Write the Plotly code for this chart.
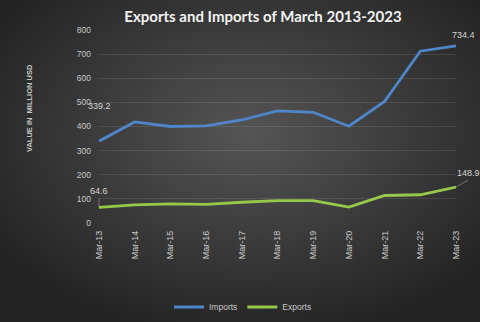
import plotly.graph_objects as go
import urllib.parse

# Data: March values, million USD
categories = ["Mar-13", "Mar-14", "Mar-15", "Mar-16", "Mar-17", "Mar-18",
              "Mar-19", "Mar-20", "Mar-21", "Mar-22", "Mar-23"]
imports = [339.2, 419, 400, 403, 427, 465, 459, 401, 504, 712, 734.4]
exports = [64.6, 75, 79, 77, 86, 93, 93, 66, 114, 117, 148.9]
y_ticks = [0, 100, 200, 300, 400, 500, 600, 700, 800]

W, H = 480, 322
M = dict(l=99, r=24, t=30, b=99, autoexpand=False)
pw = W - M["l"] - M["r"]
ph = H - M["t"] - M["b"]

# Radial gradient background as an inline SVG image
svg = (
    f'<svg xmlns="http://www.w3.org/2000/svg" width="{W}" height="{H}" '
    f'viewBox="0 0 {W} {H}" preserveAspectRatio="none">'
    '<defs><radialGradient id="g" cx="0.52" cy="0.42" r="0.62">'
    '<stop offset="0" stop-color="#555555"/>'
    '<stop offset="1" stop-color="#242424"/>'
    '</radialGradient></defs>'
    f'<rect width="{W}" height="{H}" fill="url(#g)"/></svg>'
)
bg_src = "data:image/svg+xml;charset=utf-8," + urllib.parse.quote(svg)

blue = "#4f86c9"
green = "#96c84a"
tick_color = "#c8c8c8"

fig = go.Figure()
fig.add_trace(go.Scatter(x=categories, y=imports, mode="lines", name="Imports",
                         line=dict(color=blue, width=2.8)))
fig.add_trace(go.Scatter(x=categories, y=exports, mode="lines", name="Exports",
                         line=dict(color=green, width=2.8)))

label_font = dict(family="Liberation Sans", size=9, color="#d4d4d4")
fig.add_annotation(x=categories[0], y=imports[0], text=f"{imports[0]:.1f}",
                   showarrow=False, xshift=0, yshift=35, font=label_font)
fig.add_annotation(x=categories[-1], y=imports[-1], text=f"{imports[-1]:.1f}",
                   showarrow=False, xshift=7, yshift=11, font=label_font)
fig.add_annotation(x=categories[0], y=exports[0], text=f"{exports[0]:.1f}",
                   showarrow=True, arrowhead=0, arrowwidth=0.6,
                   arrowcolor="#a0a0a0", ax=0, ay=-9, yanchor="bottom",
                   xanchor="center", font=label_font)
fig.add_annotation(x=categories[-1], y=exports[-1], text=f"{exports[-1]:.1f}",
                   showarrow=True, arrowhead=0, arrowwidth=0.6,
                   arrowcolor="#a0a0a0", ax=12, ay=-7, xanchor="center",
                   yanchor="bottom", font=label_font)

# Vertical axis caption
fig.add_annotation(xref="paper", yref="paper",
                   x=(29 - M["l"]) / pw, y=(M["t"] + ph - 108) / ph,
                   text="<b>VALUE IN  MILLION USD</b>", textangle=-90,
                   showarrow=False, xanchor="center", yanchor="middle",
                   font=dict(family="Liberation Sans", size=7.5,
                             color=tick_color))

fig.update_layout(
    width=W, height=H,
    margin=M,
    paper_bgcolor="#2c2c2c",
    plot_bgcolor="rgba(0,0,0,0)",
    images=[dict(source=bg_src, xref="paper", yref="paper",
                 x=-M["l"] / pw, y=1 + M["t"] / ph,
                 sizex=W / pw, sizey=H / ph,
                 xanchor="left", yanchor="top", sizing="stretch",
                 layer="below")],
    title=dict(text="<b>Exports and Imports of March 2013-2023</b>",
               x=263 / W, xanchor="center", y=1 - 17 / H, yanchor="middle",
               font=dict(family="Lato", size=15, color="#f2f2f2")),
    showlegend=True,
    legend=dict(orientation="h", x=(243 - M["l"]) / pw, xanchor="center",
                y=-(307 - M["t"] - ph) / ph, yanchor="middle",
                font=dict(family="Liberation Sans", size=8.5, color=tick_color),
                bgcolor="rgba(0,0,0,0)", itemwidth=30, tracegroupgap=0),
    xaxis=dict(
        type="category", range=[0, len(categories) - 1],
        tickangle=-90, tickfont=dict(family="Liberation Sans", size=9,
                                     color=tick_color),
        ticklabelstandoff=5, automargin=False,
        showgrid=False, showline=False, zeroline=False, ticks="",
        fixedrange=True,
    ),
    yaxis=dict(
        range=[0, 800], tickvals=y_ticks,
        tickfont=dict(family="Liberation Sans", size=8.5, color=tick_color),
        ticklabelstandoff=7, automargin=False,
        gridcolor="rgba(255,255,255,0.10)", gridwidth=0.8,
        zeroline=False, showline=False, ticks="",
    ),
)

fig.write_html("out.html")
